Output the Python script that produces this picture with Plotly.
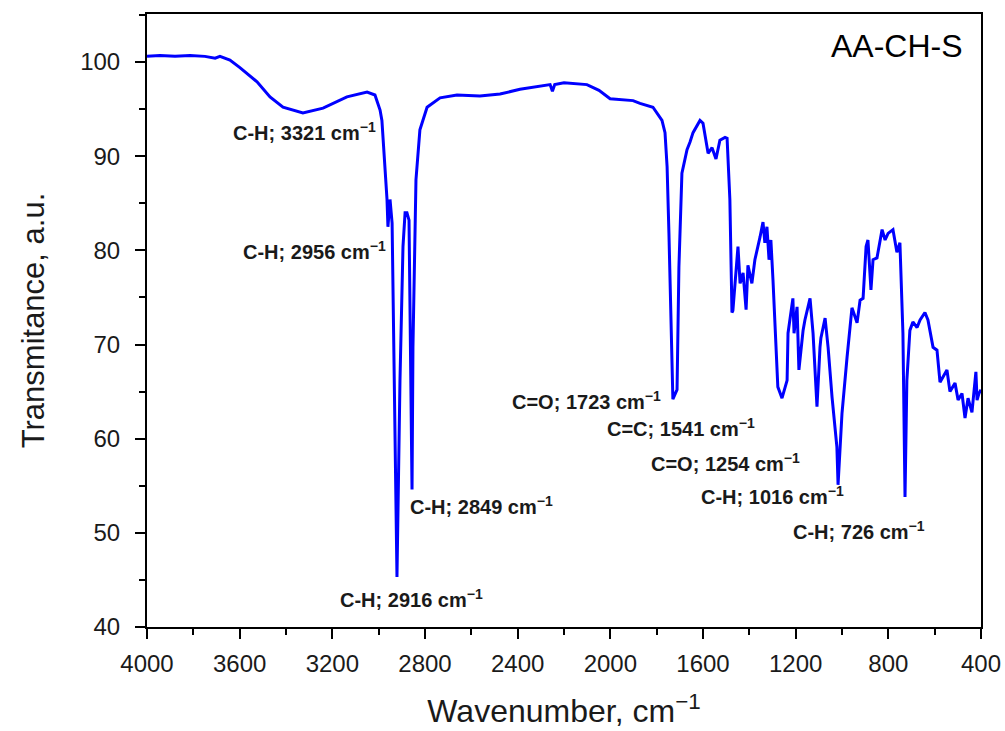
import plotly.graph_objects as go

wavenumber = [4000, 3944, 3879, 3814, 3750, 3706, 3685, 3676, 3642, 3599, 3525, 3469, 3413, 3327,
              3240, 3137, 3050, 3016, 2994, 2986, 2973, 2964, 2960, 2951, 2942, 2921, 2908, 2895,
              2886, 2878, 2869, 2856, 2852, 2839, 2822, 2791, 2735, 2662, 2563, 2476, 2390, 2299,
              2260, 2250, 2240,
              2200, 2101, 2049, 2001, 1902, 1872, 1816, 1777, 1764, 1755, 1747, 1734, 1730, 1712,
              1708, 1704, 1691, 1669, 1656, 1643, 1613, 1600, 1578, 1561, 1544, 1527, 1505, 1496,
              1484, 1475, 1471, 1449, 1440, 1427, 1414, 1406, 1389, 1376, 1354, 1341, 1333, 1324,
              1315, 1307, 1298, 1277, 1259, 1237, 1233, 1212, 1207, 1194, 1186, 1168, 1160, 1138,
              1125, 1108, 1095, 1091, 1073, 1060, 1043, 1022, 1017, 1000, 978, 957, 935, 922, 909,
              896, 888, 875, 866, 849, 827, 814, 801, 780, 763, 750, 737, 728, 720, 707, 694, 676,
              663, 642, 629, 607, 590, 577, 547, 534, 512, 499, 482, 469, 456, 439,
              422, 417, 409, 400]
transmittance = [100.6, 100.7, 100.6, 100.7, 100.6, 100.4, 100.6, 100.5, 100.2, 99.4, 97.9, 96.3, 95.2, 94.6,
                 95.1, 96.3, 96.8, 96.5, 94.9, 93.8, 89.3, 85.4, 82.5, 85.4, 82.9, 45.3, 66.2, 80.4,
                 84.0, 84.0, 83.2, 54.6, 69.7, 87.5, 92.8, 95.2, 96.2, 96.5, 96.4, 96.6, 97.1, 97.5,
                 97.6, 96.9, 97.6,
                 97.8, 97.6, 97.0, 96.1, 95.9, 95.6, 95.2, 93.8, 92.5, 88.9, 81.8, 69.4, 64.2, 65.2,
                 71.5, 78.2, 88.2, 90.7, 91.5, 92.5, 93.8, 93.5, 90.3, 90.9, 89.7, 91.7, 92.0, 91.9,
                 85.4, 73.4, 73.6, 80.4, 76.5, 77.6, 73.7, 78.4, 76.5, 79.0, 81.4, 83.0, 80.8, 82.5,
                 79.0, 81.1, 76.9, 65.5, 64.3, 66.2, 71.2, 74.9, 71.2, 74.0, 67.3, 71.5, 72.6, 74.9,
                 71.2, 63.4, 69.7, 70.7, 72.8, 69.7, 64.4, 59.1, 55.1, 62.7, 68.7, 73.9, 72.3, 74.7, 74.9,
                 80.4, 81.1, 75.8, 79.0, 79.2, 82.2, 81.1, 81.8, 82.2, 79.8, 80.8, 71.2, 53.8, 66.2, 71.5, 72.4, 71.8,
                 72.6, 73.4, 72.6, 69.7, 69.4, 66.0, 67.3, 65.0, 65.9, 64.1, 64.8, 62.2, 64.3, 62.8,
                 67.1, 64.1, 64.8, 65.2]

# peak labels
label_text = ["C-H; 3321 cm<sup>−1</sup>", "C-H; 2956 cm<sup>−1</sup>", "C-H; 2849 cm<sup>−1</sup>",
              "C-H; 2916 cm<sup>−1</sup>", "C=O; 1723 cm<sup>−1</sup>", "C=C; 1541 cm<sup>−1</sup>",
              "C=O; 1254 cm<sup>−1</sup>", "C-H; 1016 cm<sup>−1</sup>", "C-H; 726 cm<sup>−1</sup>"]
label_x = [3322, 3279, 2554, 2860, 2101, 1695, 1505, 1298, 927]
label_y = [92.6, 80.0, 52.9, 43.0, 64.1, 61.2, 57.5, 54.0, 50.2]

sample_name = "AA-CH-S"

n = min(len(wavenumber), len(transmittance))
fig = go.Figure()
fig.add_trace(go.Scatter(x=wavenumber[:n], y=transmittance[:n], mode="lines",
                         line=dict(color="#0000FF", width=3), showlegend=False))

for t, x, y in zip(label_text, label_x, label_y):
    fig.add_annotation(x=x, y=y, xref="x", yref="y", text="<b>" + t + "</b>", showarrow=False,
                       font=dict(family="Liberation Sans, Arial", size=20, color="#1a1a1a"))

fig.add_annotation(x=0.981, y=0.948, xref="paper", yref="paper", xanchor="right", yanchor="middle",
                   text=sample_name, showarrow=False,
                   font=dict(family="Liberation Sans, Arial", size=32, color="#000000"))

axis_common = dict(showgrid=False, zeroline=False, showline=True, linecolor="black", linewidth=2,
                   mirror=True, ticks="outside", ticklen=10, tickwidth=2, tickcolor="black",
                   automargin=False,
                   tickfont=dict(family="Liberation Sans, Arial", size=24, color="#1a1a1a"))

fig.update_xaxes(range=[4000, 400], dtick=400, tick0=400, ticklabelstandoff=4,
                 minor=dict(ticks="outside", ticklen=6, tickwidth=2, tickcolor="black", dtick=200),
                 title=dict(text="Wavenumber, cm<sup>−1</sup>", standoff=24,
                            font=dict(family="Liberation Sans, Arial", size=32, color="#1a1a1a")),
                 **axis_common)
fig.update_yaxes(range=[40, 105.1], dtick=10, tick0=40, ticklabelstandoff=10,
                 minor=dict(ticks="outside", ticklen=6, tickwidth=2, tickcolor="black", dtick=5),
                 title=dict(text="Transmitance, a.u.", standoff=26,
                            font=dict(family="Liberation Sans, Arial", size=31, color="#1a1a1a")),
                 **axis_common)

fig.update_layout(width=1005, height=731, margin=dict(l=147, r=24, t=14, b=104),
                  plot_bgcolor="white", paper_bgcolor="white")

fig.write_html("out.html")
